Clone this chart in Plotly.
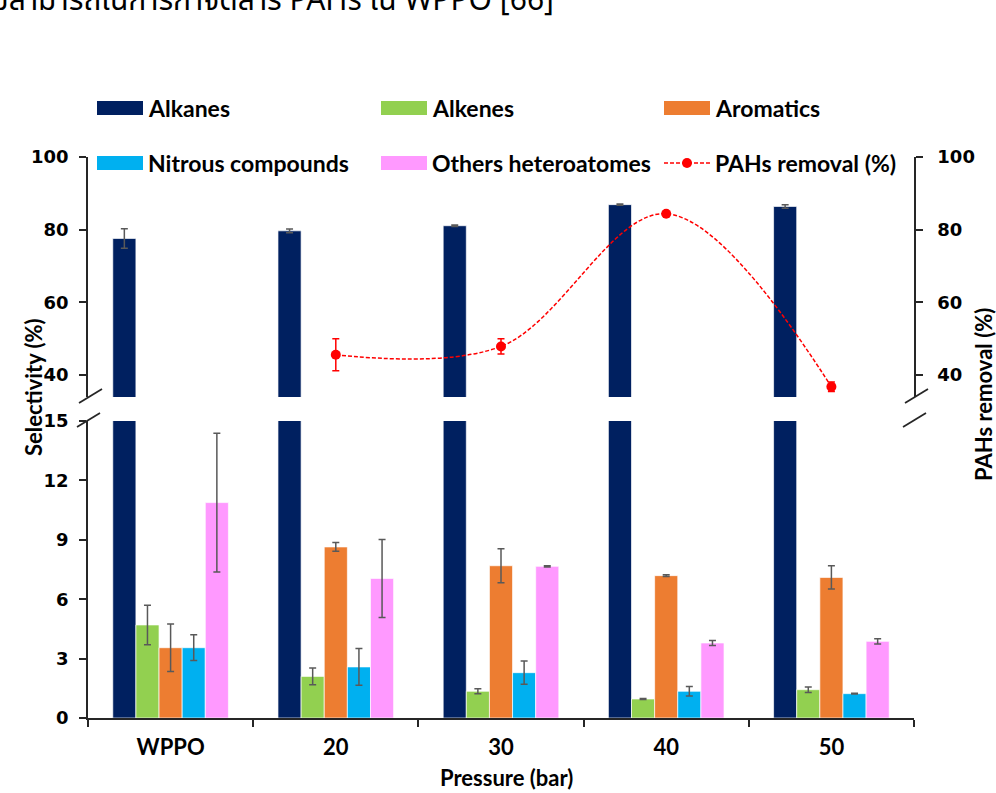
import plotly.graph_objects as go

# ---------------- data ----------------
categories = ["WPPO", "20", "30", "40", "50"]

alkanes = [77.6, 79.7, 81.1, 86.9, 86.4]
alkanes_err = [2.7, 0.5, 0.2, 0.2, 0.5]
alkenes = [4.70, 2.10, 1.35, 0.96, 1.43]
alkenes_err = [1.0, 0.42, 0.13, 0.03, 0.14]
aromatics = [3.55, 8.64, 7.69, 7.19, 7.10]
aromatics_err = [1.2, 0.22, 0.86, 0.04, 0.59]
nitrous = [3.55, 2.58, 2.29, 1.35, 1.23]
nitrous_err = [0.65, 0.93, 0.59, 0.24, 0.02]
others = [10.88, 7.05, 7.66, 3.79, 3.87]
others_err = [3.5, 1.97, 0.03, 0.13, 0.13]

pah_categories = ["20", "30", "40", "50"]
pah_removal = [45.6, 47.9, 84.4, 36.8]
pah_err = [4.4, 2.1, 0.5, 1.3]

series_names = ["Alkanes", "Alkenes", "Aromatics", "Nitrous compounds", "Others heteroatomes"]
series_colors = ["#002060", "#92D050", "#ED7D31", "#00B0F0", "#FF99FF"]
series_values = [alkanes, alkenes, aromatics, nitrous, others]
series_errors = [alkanes_err, alkenes_err, aromatics_err, nitrous_err, others_err]

low_ticks = [0, 3, 6, 9, 12, 15]
high_ticks = [40, 60, 80, 100]

# ---------------- layout geometry ----------------
W, H = 996, 793
L, R, T, B = 88, 914, 157, 718          # plot area in pixels
def px(x):
    return (x - L) / (R - L)
def py(y):
    return (B - y) / (B - T)

low_domain = [0, py(421)]
high_domain = [py(397), 1]

BAR_W = 0.14
BAR_OFF0 = -0.35

LABEL_FONT = "Lato, 'Open Sans', sans-serif"
TICK_FONT = "'DejaVu Sans', Verdana, sans-serif"

fig = go.Figure()

for i, (name, color, vals, errs) in enumerate(zip(series_names, series_colors, series_values, series_errors)):
    for yax in (["y", "y2"] if i == 0 else ["y"]):
        fig.add_trace(go.Bar(
            x=categories, y=vals, name=name, yaxis=yax, xaxis="x",
            width=BAR_W, offset=BAR_OFF0 + i * BAR_W,
            marker=dict(color=color, line=dict(color="rgba(255,255,255,0.85)", width=0.8)),
            error_y=dict(type="data", array=errs, visible=True, color="#595959", thickness=1.5, width=3.5),
            showlegend=False,
        ))

fig.add_trace(go.Scatter(
    x=pah_categories, y=pah_removal, name="PAHs removal (%)", yaxis="y4", xaxis="x",
    mode="lines+markers",
    line=dict(color="#FF0000", width=1.5, dash="4px,2px", shape="spline", smoothing=1.0),
    marker=dict(color="#FF0000", size=10, symbol="circle"),
    error_y=dict(type="data", array=pah_err, visible=True, color="#FF0000", thickness=1.5, width=3.5),
    showlegend=False,
))

def axis_common(standoff):
    return dict(
        showline=True, linecolor="#262626", linewidth=1.5,
        ticks="outside", ticklen=7, tickwidth=1.5, tickcolor="#262626",
        showgrid=False, zeroline=False,
        tickfont=dict(family=TICK_FONT, size=18, color="#000000", weight="bold"),
        ticklabelstandoff=standoff,
    )

fig.update_layout(
    width=W, height=H,
    margin=dict(l=L, r=W - R, t=T, b=H - B),
    paper_bgcolor="white", plot_bgcolor="white",
    barmode="overlay",
    showlegend=False,
    xaxis=dict(
        type="category", categoryorder="array", categoryarray=categories,
        range=[-0.5, 4.5],
        showline=True, linecolor="#262626", linewidth=1.5,
        ticks="outside", tickson="boundaries", ticklen=7, tickwidth=1.5, tickcolor="#262626",
        showgrid=False, zeroline=False,
        tickfont=dict(family=LABEL_FONT, size=22, color="#000000", weight="bold"),
        ticklabelstandoff=9,
        anchor="y",
    ),
    yaxis=dict(domain=low_domain, range=[0, 15], tickvals=low_ticks, anchor="x", **axis_common(7)),
    yaxis2=dict(domain=high_domain, range=[34, 100], tickvals=high_ticks, anchor="x", **axis_common(7)),
    yaxis3=dict(overlaying="y", side="right", range=[0, 15], tickvals=low_ticks, anchor="x", **axis_common(11)),
    yaxis4=dict(overlaying="y2", side="right", range=[34, 100], tickvals=high_ticks, anchor="x", **axis_common(11)),
)

shapes = []
annotations = []

# axis break marks
for ax_x in (L, R):
    for (x0, y0, x1, y1) in [(-9, 403, 14, 389), (-11, 427, 12, 413)]:
        shapes.append(dict(type="line", xref="paper", yref="paper",
                           x0=px(ax_x + x0), y0=py(y0), x1=px(ax_x + x1), y1=py(y1),
                           line=dict(color="#262626", width=1.8)))

# manual legend
legend_items = [
    (series_names[0], series_colors[0], 97, 108),
    (series_names[1], series_colors[1], 381, 108),
    (series_names[2], series_colors[2], 664, 108),
    (series_names[3], series_colors[3], 97, 163),
    (series_names[4], series_colors[4], 381, 163),
]
for name, color, x0, yc in legend_items:
    shapes.append(dict(type="rect", xref="paper", yref="paper",
                       x0=px(x0), x1=px(x0 + 46), y0=py(yc + 7), y1=py(yc - 7),
                       fillcolor=color, line=dict(width=0)))
    annotations.append(dict(text=name, xref="paper", yref="paper", x=px(x0 + 49), y=py(yc),
                            xanchor="left", yanchor="middle", showarrow=False,
                            font=dict(family=LABEL_FONT, size=23, color="#000000", weight="bold")))
# PAHs legend entry: dashed line + marker
shapes.append(dict(type="line", xref="paper", yref="paper",
                   x0=px(664), x1=px(710), y0=py(163), y1=py(163),
                   line=dict(color="#FF0000", width=1.5, dash="4px,2px")))
shapes.append(dict(type="circle", xref="paper", yref="paper",
                   x0=px(682), x1=px(692), y0=py(168), y1=py(158),
                   fillcolor="#FF0000", line=dict(color="#FF0000", width=0)))
annotations.append(dict(text="PAHs removal (%)", xref="paper", yref="paper", x=px(713), y=py(163),
                        xanchor="left", yanchor="middle", showarrow=False,
                        font=dict(family=LABEL_FONT, size=23, color="#000000", weight="bold")))

# axis titles
annotations.append(dict(text="Selectivity (%)", xref="paper", yref="paper", x=px(33), y=py(387),
                        textangle=-90, showarrow=False, xanchor="center", yanchor="middle",
                        font=dict(family=LABEL_FONT, size=22, color="#000000", weight="bold")))
annotations.append(dict(text="PAHs removal (%)", xref="paper", yref="paper", x=px(983), y=py(395),
                        textangle=-90, showarrow=False, xanchor="center", yanchor="middle",
                        font=dict(family=LABEL_FONT, size=22, color="#000000", weight="bold")))
annotations.append(dict(text="Pressure (bar)", xref="paper", yref="paper", x=px(507), y=py(777),
                        showarrow=False, xanchor="center", yanchor="middle",
                        font=dict(family=LABEL_FONT, size=22, color="#000000", weight="bold")))

# cut-off caption line at the very top of the page
annotations.append(dict(text="ความสามารถในการกำจัดสาร PAHs ใน WPPO [66]", xref="paper", yref="paper",
                        x=px(556), y=py(26), xanchor="right", yanchor="bottom", showarrow=False,
                        font=dict(family="'Noto Sans Thai', 'Noto Sans', sans-serif", size=30, color="#000000")))

fig.update_layout(shapes=shapes, annotations=annotations)

fig.write_html("out.html", config={"displayModeBar": False},
               post_script="document.body.style.margin='0px';document.body.style.overflow='hidden';")
